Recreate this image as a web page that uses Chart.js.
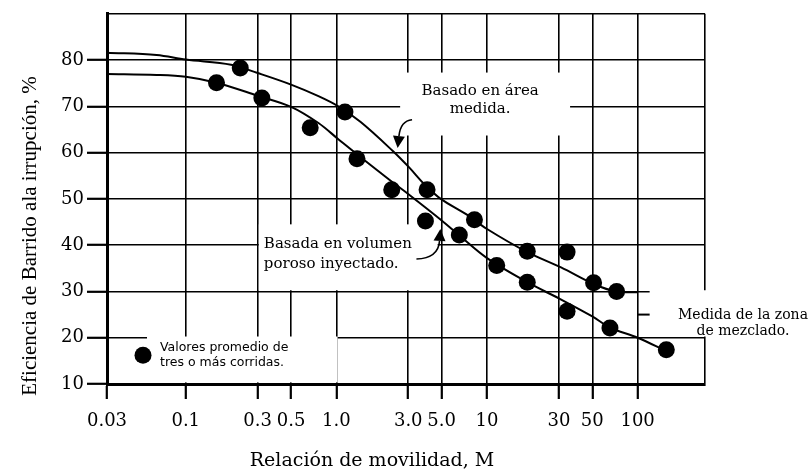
<!DOCTYPE html>
<html>
<head>
<meta charset="utf-8">
<script src="https://cdn.jsdelivr.net/npm/chart.js@4.4.1/dist/chart.umd.min.js"></script>
<style>
    html, body { margin: 0; padding: 0; background: #fff; }
    #wrap { width: 810px; height: 472px; }
</style>
</head>
<body>
<div id="wrap"><canvas id="sweepChart"></canvas></div>
<script>
// Sweep efficiency at breakthrough vs mobility ratio (log x axis)

const xTickValues = [0.03, 0.1, 0.3, 0.5, 1.0, 3.0, 5.0, 10, 30, 50, 100, 280];
const xTickLabels = ['0.03', '0.1', '0.3', '0.5', '1.0', '3.0', '5.0', '10', '30', '50', '100', ''];

// Upper curve - based on measured area
const areaM = [0.03, 0.064, 0.1, 0.2, 0.3, 0.5, 0.76, 1.03, 1.45, 2.36, 3.04, 3.83, 4.93, 7.26, 10, 18.5, 31, 52, 72, 100];
const areaE = [81.6, 81.1, 80.1, 79.0, 77.2, 74.7, 72.2, 70.0, 66.6, 60.4, 56.8, 53.2, 50.0, 46.7, 43.5, 38.5, 35.2, 31.5, 30.0, 29.8];

// Lower curve - based on injected pore volume
const volM = [0.03, 0.064, 0.1, 0.16, 0.3, 0.5, 0.76, 1.03, 1.45, 2.36, 3.04, 4.93, 6.55, 10, 18.5, 30, 50, 65.5, 100, 155];
const volE = [77.0, 76.8, 76.4, 75.1, 72.3, 69.9, 66.4, 62.9, 59.0, 53.6, 50.9, 45.5, 42.1, 37.2, 32.0, 28.5, 24.6, 22.2, 20.0, 17.1];

// Averaged runs (dots)
const dotM = [0.16, 0.23, 0.32, 0.67, 1.14, 1.37, 2.33, 3.9, 4.0, 6.55, 8.25, 11.6, 18.5, 18.5, 34, 34, 51, 65.5, 72.5, 155];
const dotE = [75.1, 78.3, 71.8, 65.4, 68.8, 58.7, 52.0, 45.2, 52.0, 42.2, 45.5, 35.6, 38.7, 32.0, 38.5, 25.7, 31.9, 22.1, 30.0, 17.4];

function toPoints(xs, ys) {
    return xs.map((x, i) => ({ x: x, y: ys[i] }));
}

// arrow: quadratic curve from start to tip, filled head at tip
function drawArrow(ctx, sx, sy, cx, cy, tx, ty) {
    const ang = Math.atan2(ty - cy, tx - cx);
    const len = 12, half = 6;
    const bx = tx - Math.cos(ang) * len;
    const by = ty - Math.sin(ang) * len;
    ctx.beginPath();
    ctx.moveTo(sx, sy);
    ctx.quadraticCurveTo(cx, cy, bx, by);
    ctx.stroke();
    ctx.beginPath();
    ctx.moveTo(tx, ty);
    ctx.lineTo(bx + Math.sin(ang) * half, by - Math.cos(ang) * half);
    ctx.lineTo(bx - Math.sin(ang) * half, by + Math.cos(ang) * half);
    ctx.closePath();
    ctx.fill();
}

const notesPlugin = {
    id: 'notes',
    // white boxes behind the labels, they hide the grid but not the data
    beforeDatasetsDraw(chart) {
        const { ctx, chartArea } = chart;
        const xs = chart.scales.x, ys = chart.scales.y;
        ctx.save();
        ctx.fillStyle = '#fff';
        // "Basado en área medida."
        let l = xs.getPixelForValue(2.65), r = xs.getPixelForValue(35.6);
        let t = ys.getPixelForValue(77.3), b = ys.getPixelForValue(63.7);
        ctx.fillRect(l, t, r - l, b - t);
        // "Basada en volumen poroso inyectado."
        l = xs.getPixelForValue(0.3) + 1.2; r = xs.getPixelForValue(4.7);
        t = ys.getPixelForValue(44.5); b = ys.getPixelForValue(30) - 1.2;
        ctx.fillRect(l, t, r - l, b - t);
        // legend box
        l = chartArea.left + 40; r = xs.getPixelForValue(1.0) + 1.2;
        t = ys.getPixelForValue(20) - 1.2; b = chartArea.bottom - 1.6;
        ctx.fillRect(l, t, r - l, b - t);
        // "Medida de la zona de mezclado."
        l = xs.getPixelForValue(100) + 12; r = chart.width;
        t = ys.getPixelForValue(30) - 1.2; b = ys.getPixelForValue(20) - 1.2;
        ctx.fillRect(l, t, r - l, b - t);
        ctx.restore();
    },
    afterDatasetsDraw(chart) {
        const { ctx, chartArea } = chart;
        const xs = chart.scales.x, ys = chart.scales.y;
        ctx.save();
        ctx.fillStyle = '#000';
        ctx.strokeStyle = '#000';
        ctx.textBaseline = 'middle';

        // curve labels
        ctx.font = '15px "DejaVu Serif"';
        ctx.textAlign = 'center';
        const ax = xs.getPixelForValue(9);
        ctx.fillText('Basado en área', ax, ys.getPixelForValue(73.3));
        ctx.fillText('medida.', ax, ys.getPixelForValue(69.4));

        ctx.textAlign = 'left';
        const vx = xs.getPixelForValue(0.33);
        ctx.fillText('Basada en volumen', vx, ys.getPixelForValue(40.2));
        ctx.fillText('poroso inyectado.', vx, ys.getPixelForValue(36.0));

        // arrows to the curves
        ctx.lineWidth = 1.6;
        let sx = xs.getPixelForValue(3.18), sy = ys.getPixelForValue(67.1);
        let tx = xs.getPixelForValue(2.55), ty = ys.getPixelForValue(61);
        drawArrow(ctx, sx, sy, tx + 3, sy + 1, tx, ty);
        sx = xs.getPixelForValue(3.4); sy = ys.getPixelForValue(37.0);
        tx = xs.getPixelForValue(4.9); ty = ys.getPixelForValue(43.5);
        drawArrow(ctx, sx, sy, tx - 2, sy - 1, tx, ty);

        // legend
        const ly = ys.getPixelForValue(16.2);
        ctx.beginPath();
        ctx.arc(chartArea.left + 36, ly, 8.5, 0, Math.PI * 2);
        ctx.fill();
        ctx.font = '12.5px "DejaVu Sans"';
        ctx.fillText('Valores promedio de', chartArea.left + 53, ys.getPixelForValue(17.9));
        ctx.fillText('tres o más corridas.', chartArea.left + 53, ys.getPixelForValue(14.5));

        // bracket for the mixing zone
        const bx = xs.getPixelForValue(100);
        const mid = (ys.getPixelForValue(30) + ys.getPixelForValue(20)) / 2;
        ctx.lineWidth = 2;
        ctx.beginPath();
        ctx.moveTo(bx, mid);
        ctx.lineTo(bx + 12, mid);
        ctx.stroke();
        ctx.font = '14px "DejaVu Serif"';
        ctx.textAlign = 'center';
        ctx.fillText('Medida de la zona', 743, mid + 1);
        ctx.fillText('de mezclado.', 743, mid + 17);

        // axis titles
        ctx.font = '19px "DejaVu Serif"';
        ctx.fillText('Relación de movilidad, M', 372, 461);
        ctx.translate(30, 236);
        ctx.rotate(-Math.PI / 2);
        ctx.font = '21px "Liberation Serif"';
        ctx.fillText('Eficiencia de Barrido ala irrupción, %', 0, 0);
        ctx.restore();
    }
};

const ctx = document.getElementById('sweepChart').getContext('2d');
const sweepChart = new Chart(ctx, {
    type: 'scatter',
    data: {
        datasets: [
            {
                label: 'Basado en área medida',
                data: toPoints(areaM, areaE),
                showLine: true,
                borderColor: '#000',
                borderWidth: 2,
                pointRadius: 0,
                tension: 0.35,
                fill: false
            },
            {
                label: 'Basada en volumen poroso inyectado',
                data: toPoints(volM, volE),
                showLine: true,
                borderColor: '#000',
                borderWidth: 2,
                pointRadius: 0,
                tension: 0.35,
                fill: false
            },
            {
                label: 'Valores promedio de tres o más corridas',
                data: toPoints(dotM, dotE),
                showLine: false,
                pointRadius: 8.5,
                backgroundColor: '#000',
                borderColor: '#000',
                borderWidth: 0
            }
        ]
    },
    options: {
        responsive: true,
        maintainAspectRatio: false,
        animation: false,
        layout: { padding: { top: 11, right: 105, left: 0, bottom: 0 } },
        plugins: {
            legend: { display: false },
            tooltip: { enabled: false }
        },
        scales: {
            x: {
                type: 'logarithmic',
                min: 0.03,
                max: 280,
                afterBuildTicks: scale => {
                    scale.ticks = xTickValues.map(v => ({ value: v }));
                },
                afterFit: scale => { scale.height = 88; },
                ticks: {
                    autoSkip: false,
                    maxRotation: 0,
                    padding: 12,
                    color: '#000',
                    font: { family: 'DejaVu Serif', size: 18 },
                    callback: (value, index) => xTickLabels[index] ?? ''
                },
                grid: {
                    color: '#000',
                    lineWidth: 1.6,
                    tickLength: 15,
                    tickWidth: 2.2,
                    tickColor: c => (c.tick && c.tick.value === 280) ? 'rgba(0,0,0,0)' : '#000'
                },
                border: { color: '#000', width: 3 }
            },
            y: {
                min: 10,
                max: 90,
                afterFit: scale => { scale.width = 107; },
                ticks: {
                    stepSize: 10,
                    padding: 3,
                    color: '#000',
                    font: { family: 'DejaVu Serif', size: 18 },
                    callback: value => value === 90 ? '' : String(value)
                },
                grid: {
                    color: '#000',
                    lineWidth: 1.6,
                    tickLength: 20,
                    tickWidth: 2.2,
                    tickColor: c => (c.tick && c.tick.value === 90) ? 'rgba(0,0,0,0)' : '#000'
                },
                border: { color: '#000', width: 3 }
            }
        }
    },
    plugins: [notesPlugin]
});
</script>
</body>
</html>
